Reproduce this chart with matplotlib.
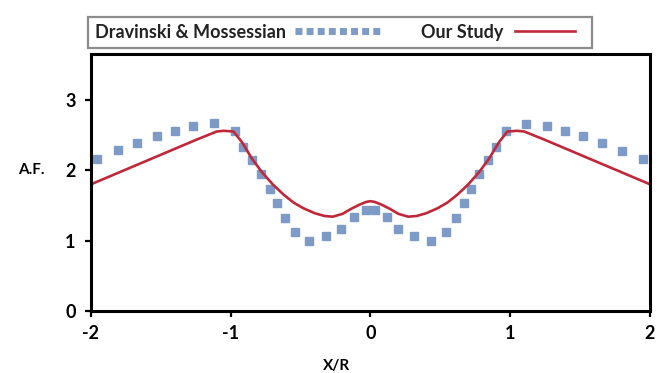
#!/usr/bin/env python3
"""Amplification factor A.F. along X/R: Dravinski & Mossessian vs. our study."""
import matplotlib
matplotlib.use("Agg")
import matplotlib.pyplot as plt
from matplotlib.lines import Line2D
from matplotlib.legend_handler import HandlerLine2D

plt.rcParams["font.family"] = ["Lato", "DejaVu Sans"]
plt.rcParams["font.weight"] = "bold"

# reference solution (square dots)
dm_x = [-1.96, -1.81, -1.67, -1.53, -1.40, -1.27, -1.12, -0.97, -0.91, -0.85,
        -0.78, -0.72, -0.67, -0.61, -0.54, -0.44, -0.32, -0.21, -0.12, -0.03,
        0.03, 0.12, 0.20, 0.31, 0.43, 0.54, 0.61, 0.67, 0.72, 0.78,
        0.84, 0.90, 0.97, 1.11, 1.26, 1.39, 1.52, 1.66, 1.80, 1.95]
dm_af = [2.16, 2.29, 2.38, 2.48, 2.56, 2.63, 2.67, 2.56, 2.33, 2.14,
         1.95, 1.74, 1.53, 1.32, 1.12, 1.00, 1.07, 1.17, 1.33, 1.43,
         1.43, 1.33, 1.17, 1.07, 1.00, 1.12, 1.32, 1.53, 1.74, 1.95,
         2.14, 2.33, 2.56, 2.66, 2.63, 2.56, 2.48, 2.38, 2.28, 2.16]

# our study (solid line)
our_x = [-2.0, -1.75, -1.5, -1.25, -1.1, -1.05, -0.98, -0.92, -0.85, -0.78,
         -0.7, -0.62, -0.55, -0.48, -0.4, -0.33, -0.27, -0.2, -0.14, -0.08,
         -0.03, 0.0, 0.03, 0.08, 0.14, 0.2, 0.27, 0.33, 0.4, 0.48,
         0.55, 0.62, 0.7, 0.78, 0.85, 0.92, 0.98, 1.05, 1.1, 1.25,
         1.5, 1.75, 2.0]
our_af = [1.80, 2.01, 2.22, 2.43, 2.55, 2.56, 2.55, 2.40, 2.17, 1.98,
          1.80, 1.65, 1.54, 1.46, 1.39, 1.35, 1.34, 1.38, 1.45, 1.51,
          1.55, 1.56, 1.55, 1.51, 1.45, 1.38, 1.34, 1.35, 1.39, 1.46,
          1.54, 1.65, 1.80, 1.98, 2.17, 2.40, 2.55, 2.56, 2.55, 2.43,
          2.22, 2.01, 1.80]

x_ticks = [-2, -1, 0, 1, 2]
y_ticks = [0, 1, 2, 3]

BLUE = "#7d9bc6"
RED = "#c0283a"


class HandleSpan(HandlerLine2D):
    """Legend line drawn between two fractions of the handle box width."""

    def __init__(self, start=0.0, stop=1.0, **kw):
        super().__init__(**kw)
        self.start = start
        self.stop = stop

    def create_artists(self, legend, orig_handle, xdescent, ydescent,
                       width, height, fontsize, trans):
        return super().create_artists(
            legend, orig_handle, xdescent - self.start * width, ydescent,
            width * (self.stop - self.start), height, fontsize, trans)


fig = plt.figure(figsize=(6.67, 3.73), dpi=100)
ax = fig.add_axes([0.1364, 0.1662, 0.8381, 0.6888])

ax.plot(dm_x, dm_af, ls="none", marker="s", ms=5.7, color=BLUE, mec=BLUE)
ax.plot(our_x, our_af, color=RED, lw=1.9)

ax.set_xlim(-2, 2)
ax.set_ylim(0, 3.65)
ax.set_xticks(x_ticks)
ax.set_yticks(y_ticks)
ax.set_xticklabels([str(v) for v in x_ticks])
for s in ax.spines.values():
    s.set_linewidth(2.2)
ax.tick_params(axis="both", direction="out", length=4, width=1.6,
               labelsize=13, colors="black")
ax.tick_params(axis="x", pad=6)
ax.tick_params(axis="y", pad=7)

ax.set_xlabel("X/R", fontsize=11, fontweight="bold")
ax.xaxis.set_label_coords(0.44, -0.185)
ax.set_ylabel("A.F.", fontsize=11, fontweight="bold", rotation=0,
              ha="center", va="center")
ax.yaxis.set_label_coords(-0.107, 0.549)

h_dm = Line2D([], [], color=BLUE, lw=5, ls=(0, (1, 0.6)), dash_capstyle="butt")
h_our = Line2D([], [], color=RED, lw=1.9)
leg = fig.legend([h_dm, h_our], ["Dravinski & Mossessian", "Our Study"],
                 ncol=2, markerfirst=False, loc="lower left",
                 bbox_to_anchor=(88 / 667, 1 - 48 / 373, 504 / 667, 38 / 373),
                 mode="expand", fancybox=False, edgecolor="#8c8c8c",
                 framealpha=1, handlelength=4.0, handletextpad=0.5,
                 borderpad=0.4, borderaxespad=0,
                 handler_map={h_dm: HandleSpan(0.0, 1.176),
                              h_our: HandleSpan(0.03, 0.86)},
                 prop={"size": 13, "weight": "bold"})
leg.get_frame().set_linewidth(1.6)
for t in leg.get_texts():
    t.set_color("#222222")

fig.savefig("out.png", dpi=100)
